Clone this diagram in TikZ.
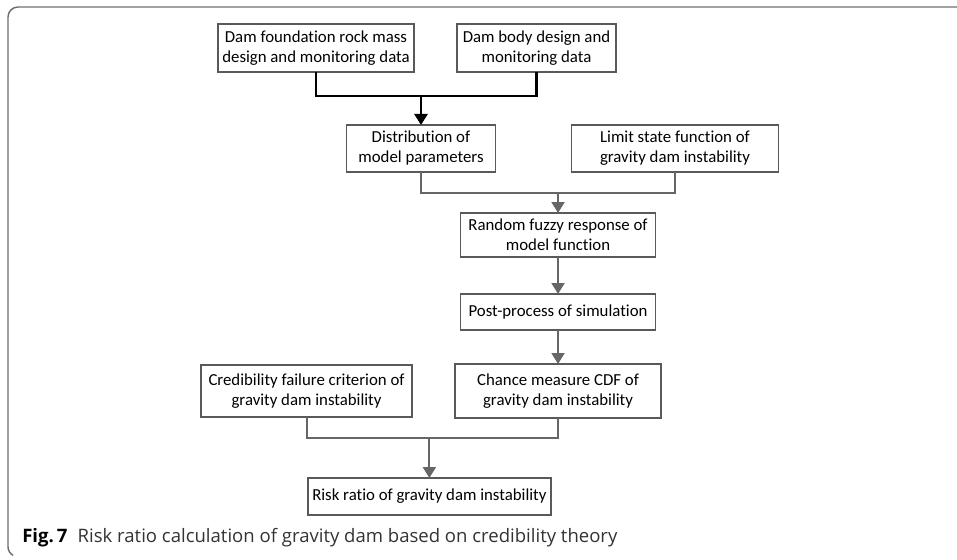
\documentclass[tikz,border=0pt]{standalone}
\usepackage{fontspec}
\setmainfont{Carlito}[Ligatures=CommonOff]
\newfontfamily\capfont{Open Sans}
\usetikzlibrary{arrows.meta,positioning}
\definecolor{linegray}{HTML}{666666}
\definecolor{boxgray}{HTML}{595959}
\definecolor{frmgray}{HTML}{6E6E6E}
\tikzset{
  blk/.style={draw=boxgray,rectangle,line width=1.2pt,align=center,inner sep=0pt,outer sep=0pt,font=\fontsize{12.6}{15}\selectfont},
  lnk/.style={line width=1.5pt,draw=linegray},
  arr/.style={lnk,-{Triangle[width=9.75pt,length=8.25pt]}},
  blklnk/.style={line width=1.9pt,draw=black},
  blkarr/.style={blklnk,-{Triangle[width=9.75pt,length=8.25pt]}},
  frm/.style={draw=frmgray,line width=1.1pt},
  figcap/.style={anchor=base west,inner sep=0pt,font=\capfont\fontsize{13.9}{16}\selectfont}
}
\begin{document}
\begin{tikzpicture}
  \useasboundingbox (-237pt,36pt) rectangle (480.75pt,-384pt);

  \node[blk, minimum width=147pt, minimum height=36pt] (found) {Dam foundation rock mass\\design and monitoring data};
  \node[blk, right=32.25pt of found, minimum width=119.25pt, minimum height=36pt] (body) {Dam body design and\\monitoring data};
  \node[blk, below=39.75pt of found.south east, xshift=5.25pt, minimum width=111.75pt, minimum height=35.25pt] (dist) {Distribution of\\model parameters};
  \node[blk, right=57pt of dist, minimum width=155.25pt, minimum height=35.25pt] (lsf) {Limit state function of\\gravity dam instability};
  \node[blk, below=30.75pt of dist.south east, xshift=46.9pt, minimum width=146.25pt, minimum height=33pt] (resp) {Random fuzzy response of\\model function};
  \node[blk, below=27.75pt of resp, minimum width=146.25pt, minimum height=27pt] (post) {Post-process of simulation};
  \node[blk, below=25.5pt of post, minimum width=154.5pt, minimum height=40.5pt] (cdf) {Chance measure CDF of\\gravity dam instability};
  \node[blk, left=32.25pt of cdf, minimum width=158.25pt, minimum height=39pt] (crit) {Credibility failure criterion of\\gravity dam instability};
  \node[blk, below=45.75pt of crit.south east, xshift=13pt, minimum width=182.25pt, minimum height=27.75pt] (risk) {Risk ratio of gravity dam instability};

  \coordinate[below=18pt of found.south] (j1);
  \coordinate[below=15.75pt of dist.south] (j2);
  \coordinate[below=15.75pt of crit.south] (j3);

  \draw[blklnk] (found.south) -- (j1) -| (body.south);
  \draw[blkarr] (j1 -| dist.north) -- (dist.north);
  \draw[lnk] (dist.south) -- (j2) -| (lsf.south);
  \draw[arr] (j2 -| resp.north) -- (resp.north);
  \draw[arr] (resp) -- (post);
  \draw[arr] (post) -- (cdf);
  \draw[lnk] (crit.south) -- (j3) -| (cdf.south);
  \draw[arr] (j3 -| risk.north) -- (risk.north);

  \draw[frm] (480.75pt,30.75pt) -- (-223.5pt,30.75pt) arc[start angle=90,end angle=180,radius=7.5pt] -- (-231pt,-374pt) arc[start angle=180,end angle=240,radius=7.5pt];
  \node[figcap] (figtxt) at (-220.5pt,-370.5pt) {\textbf{Fig.\,7}\hspace{0.55em}{\color{black!80}Risk ratio calculation of gravity dam based on credibility theory}};
\end{tikzpicture}
\end{document}
